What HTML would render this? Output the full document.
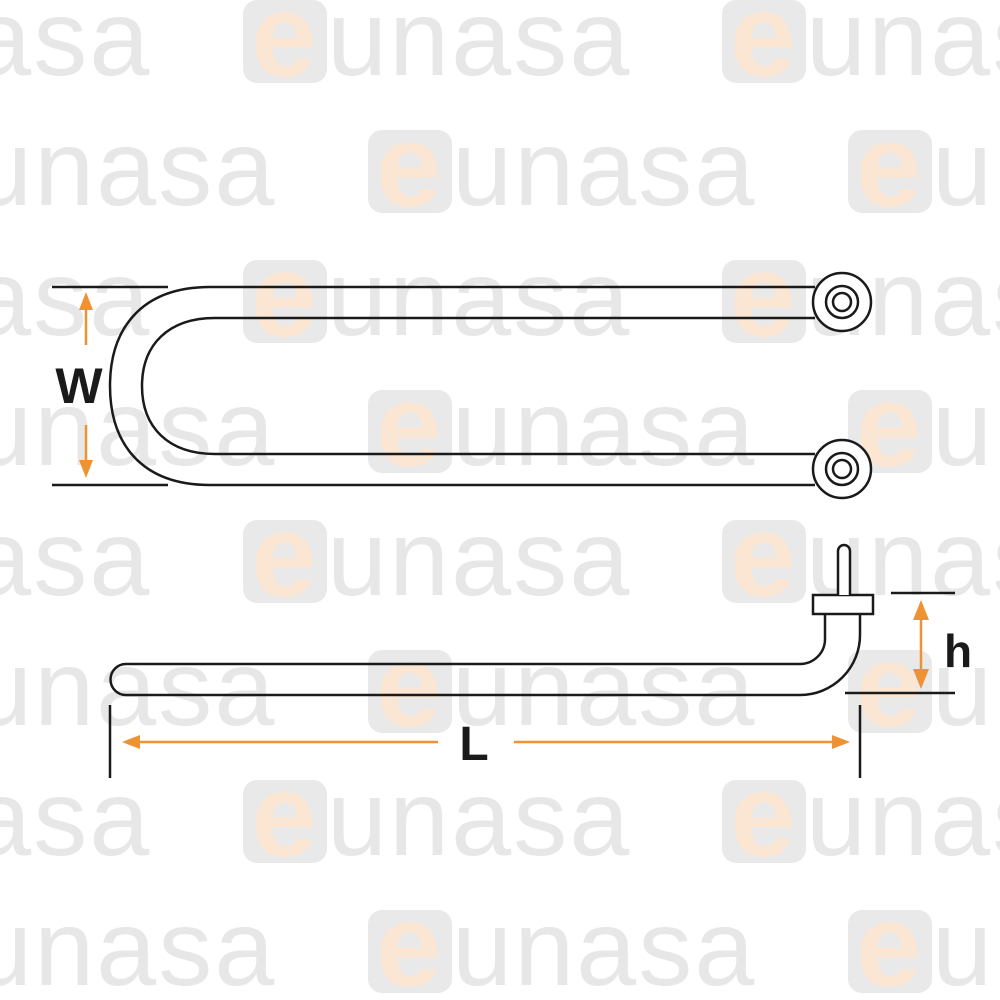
<!DOCTYPE html>
<html><head><meta charset="utf-8"><style>
html,body{margin:0;padding:0;background:#fff;width:1000px;height:1000px;overflow:hidden}
svg{display:block}
.wm{font-family:"Liberation Sans",sans-serif;font-size:108px;fill:#e7e7e7;letter-spacing:2px}
.e{font-family:"Liberation Sans",sans-serif;font-size:118px;font-weight:bold;fill:#fbe6d3}
</style></head><body>
<svg width="1000" height="1000" viewBox="0 0 1000 1000" xmlns="http://www.w3.org/2000/svg">
<defs>
<g id="logo">
<rect x="0" y="0" width="84" height="83" rx="14" fill="#e9e9e9"/>
<text class="e" x="8" y="76">e</text>
<text class="wm" x="84" y="75">unasa</text>
</g>
</defs>
<g>
<use href="#logo" x="-237" y="0"/><use href="#logo" x="243" y="0"/><use href="#logo" x="722" y="0"/>
<use href="#logo" x="-112" y="130"/><use href="#logo" x="368" y="130"/><use href="#logo" x="848" y="130"/>
<use href="#logo" x="-237" y="260"/><use href="#logo" x="243" y="260"/><use href="#logo" x="722" y="260"/>
<use href="#logo" x="-112" y="390"/><use href="#logo" x="368" y="390"/><use href="#logo" x="848" y="390"/>
<use href="#logo" x="-237" y="520"/><use href="#logo" x="243" y="520"/><use href="#logo" x="722" y="520"/>
<use href="#logo" x="-112" y="650"/><use href="#logo" x="368" y="650"/><use href="#logo" x="848" y="650"/>
<use href="#logo" x="-237" y="780"/><use href="#logo" x="243" y="780"/><use href="#logo" x="722" y="780"/>
<use href="#logo" x="-112" y="910"/><use href="#logo" x="368" y="910"/><use href="#logo" x="848" y="910"/>
</g>
<g fill="none" stroke="#1a1a1a" stroke-width="2.5">
<path d="M815 287 H210 C140 287 110 330 110 386 C110 442 140 485 210 485 H815"/>
<path d="M815 318 H215 C168 318 142 345 142 386 C142 427 168 454 215 454 H815"/>
<circle cx="842" cy="302" r="29" fill="#fff"/><circle cx="842" cy="302" r="16"/><circle cx="842" cy="302" r="9"/>
<circle cx="842" cy="469" r="29" fill="#fff"/><circle cx="842" cy="469" r="16"/><circle cx="842" cy="469" r="9"/>
<line x1="52" y1="287" x2="168" y2="287"/><line x1="52" y1="485" x2="168" y2="485"/>
<path d="M825 614 V640 A25 25 0 0 1 800 664 H126 A15.5 15.5 0 0 0 126 695 H800 A60 60 0 0 0 860 635 V614"/>
<rect x="813" y="595" width="60" height="19" fill="#fff"/>
<path d="M838 595 V551 A6 6 0 0 1 850 551 V595" fill="#fff"/>
<line x1="891" y1="593" x2="955" y2="593"/><line x1="845" y1="693" x2="955" y2="693"/>
<line x1="110" y1="705" x2="110" y2="778"/><line x1="860" y1="705" x2="860" y2="778"/>
</g>
<g stroke="#ee9233" stroke-width="2.5" fill="#ee9233">
<line x1="86" y1="345" x2="86" y2="305"/><polygon points="86,292 79,310 93,310" stroke="none"/>
<line x1="86" y1="425" x2="86" y2="465"/><polygon points="86,478 79,460 93,460" stroke="none"/>
<line x1="921" y1="612" x2="921" y2="676"/><polygon points="921,600 913,620 929,620" stroke="none"/><polygon points="921,689 913,669 929,669" stroke="none"/>
<line x1="134" y1="742" x2="438" y2="742"/><polygon points="122,742 140,735 140,749" stroke="none"/>
<line x1="514" y1="742" x2="838" y2="742"/><polygon points="850,742 832,735 832,749" stroke="none"/>
</g>
<g font-family="Liberation Sans,sans-serif" font-weight="bold" fill="#1a1a1a">
<text x="79" y="403" font-size="50" text-anchor="middle">W</text>
<text x="958" y="667" font-size="46" text-anchor="middle">h</text>
<text x="474" y="760" font-size="48" text-anchor="middle">L</text>
</g>
</svg>
</body></html>
